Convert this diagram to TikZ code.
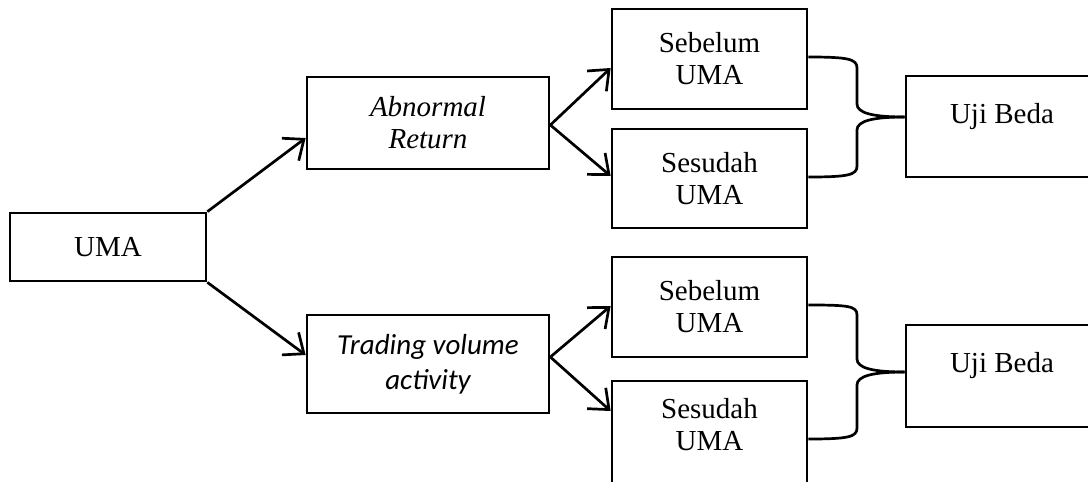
\documentclass[tikz,border=0pt]{standalone}
\usepackage{fontspec}
\setmainfont{Liberation Serif}[ItalicFont={Liberation Serif Italic}]
\newfontfamily\calibri{Carlito}
\usetikzlibrary{arrows.meta}
\begin{document}
\begin{tikzpicture}[x=1pt,y=-1pt,
  txt/.style={inner sep=0pt, align=center, font=\fontsize{29}{32}\selectfont},
  box/.style={txt, draw, line width=2.7pt},
  link/.style={line width=2.7pt, -{Straight Barb[length=17pt,width=28pt]}},
  brace/.style={line width=2.7pt}]
\useasboundingbox (0,0) rectangle (1088,482);
\clip (0,0) rectangle (1088,482);

% source and the two measured variables
\node[box, minimum width=196, minimum height=68] (uma) at (108,247) {UMA};
\node[box, minimum width=242, minimum height=92,
      font=\fontsize{29}{32}\selectfont\itshape] (ar) at (428,123) {Abnormal\\Return};
\node[box, minimum width=242, minimum height=98,
      font=\fontsize{29}{35}\selectfont\calibri\itshape] (tv) at (428,364) {Trading volume\\activity};

% before / after periods
\node[box, minimum width=195, minimum height=100] (seb1) at (709.5,59) {Sebelum\\UMA};
\node[box, minimum width=195, minimum height=99] (ses1) at (709.5,178.5) {Sesudah\\UMA};
\node[box, minimum width=195, minimum height=100] (seb2) at (709.5,307) {Sebelum\\UMA};
\node[box, minimum width=195, minimum height=105] (ses2) at (709.5,433.5) {};
\node[txt] (ses2t) at ([yshift=8.5pt]ses2.center) {Sesudah\\UMA};

% difference tests
\node[box, minimum width=192, minimum height=101] (ub1) at (1002,126.5) {};
\node[txt] (ub1t) at ([yshift=9.5pt]ub1.center) {Uji Beda};
\node[box, minimum width=192, minimum height=102] (ub2) at (1002,376) {};
\node[txt] (ub2t) at ([yshift=10pt]ub2.center) {Uji Beda};

% arrows
\draw[link] (uma.north east) -- ([yshift=-15pt]ar.west);
\draw[link] (uma.south east) -- ([yshift=9pt]tv.west);
\draw[link] ([yshift=-2pt]ar.east) -- ([yshift=-9pt]seb1.west);
\draw[link] ([yshift=-2pt]ar.east) -- ([yshift=2.5pt]ses1.west);
\draw[link] ([yshift=7pt]tv.east) -- ([yshift=1pt]seb2.west);
\draw[link] ([yshift=7pt]tv.east) -- ([yshift=22.5pt]ses2.west);

% braces joining each pair to its test
\draw[brace] ([yshift=2pt]seb1.east) .. controls +(40,0) and +(0,-9) .. (857,68)
  -- (857,104) .. controls +(0,9) and +(-32,0) .. ([yshift=9.5pt]ub1.west);
\draw[brace] ([yshift=9.5pt]ub1.west) .. controls +(-32,0) and +(0,-9) .. (857,130)
  -- (857,166) .. controls +(0,9) and +(40,0) .. ([yshift=1.5pt]ses1.east);
\draw[brace] ([yshift=2pt]seb2.east) .. controls +(40,0) and +(0,-9) .. (857,315)
  -- (857,359) .. controls +(0,9) and +(-32,0) .. ([yshift=4pt]ub2.west);
\draw[brace] ([yshift=4pt]ub2.west) .. controls +(-32,0) and +(0,-9) .. (857,385)
  -- (857,428) .. controls +(0,9) and +(40,0) .. ([yshift=-5.5pt]ses2.east);
\end{tikzpicture}
\end{document}
